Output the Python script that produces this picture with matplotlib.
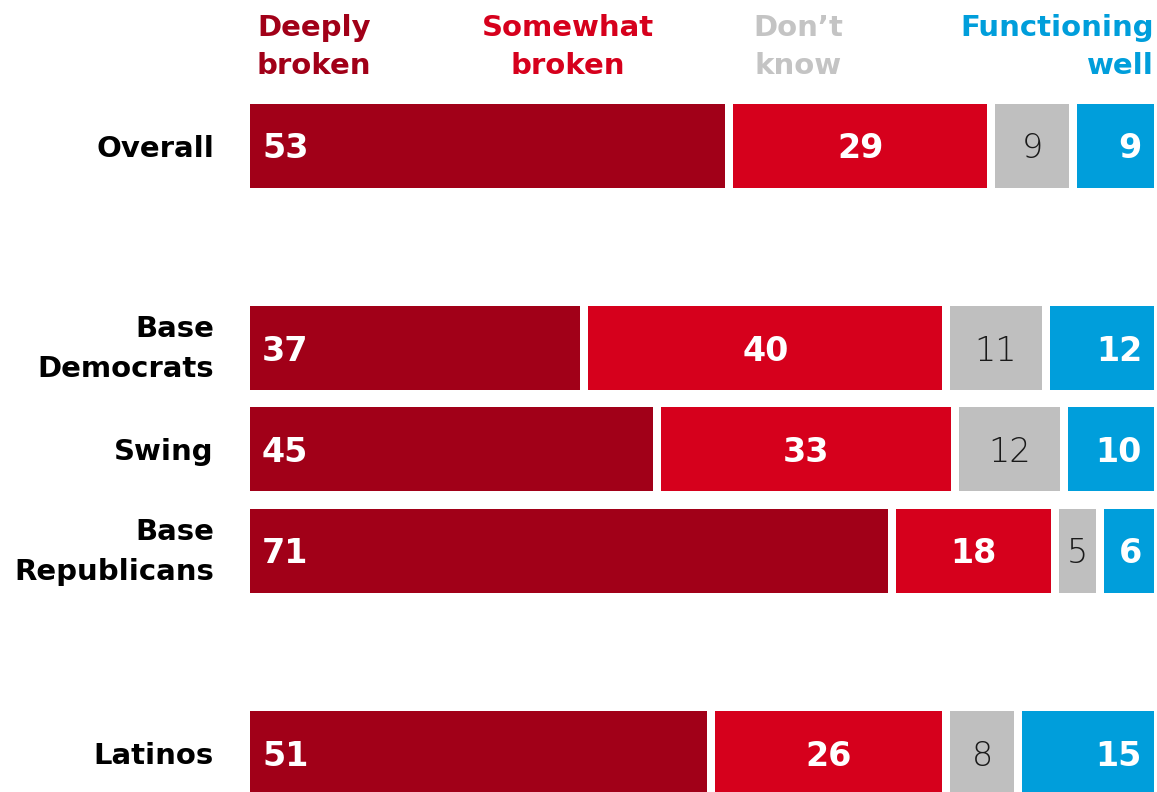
import numpy as np
import matplotlib.pyplot as plt

plt.rcParams['font.family'] = ['DejaVu Sans']

# data (percent)
groups = ['Overall', 'Base\nDemocrats', 'Swing', 'Base\nRepublicans', 'Latinos']
categories = ['Deeply\nbroken', 'Somewhat\nbroken', 'Don\u2019t\nknow', 'Functioning\nwell']
deeply = [53, 37, 45, 71, 51]
somewhat = [29, 40, 33, 18, 26]
dont_know = [9, 11, 12, 5, 8]
functioning = [9, 12, 10, 6, 15]

colors = ['#A10018', '#D6001C', '#BFBFBF', '#009EDB']
head_colors = ['#A10018', '#D6001C', '#C4C4C4', '#009EDB']

# layout: rows with empty slots between the sections
row_pos = [0, 2, 3, 4, 6]
px_per_row = 101.2
W, H = 1157, 792

fig = plt.figure(figsize=(W / 100, H / 100), dpi=100)
ax = fig.add_axes([250 / W, 0, 904 / W, 1])
ax.set_xlim(0, 100)
ax.set_ylim(6 + (H - 753) / px_per_row, -146 / px_per_row)
ax.axis('off')


def px(d):
    # vertical pixel offset -> data units (axis is inverted)
    return d / px_per_row


gap = 8 / 9.04  # white gap between segments, in data units
series = [deeply, somewhat, dont_know, functioning]
vals = np.array(series).T
pad = 12 / 9.04
num_kw = dict(va='baseline', fontsize=24)

for i, y in enumerate(row_pos):
    left = 0
    yb = y + px(12.5)
    for j, v in enumerate(vals[i]):
        l = left + (gap / 2 if j > 0 else 0)
        r = left + v - (gap / 2 if j < len(vals[i]) - 1 else 0)
        ax.barh(y, r - l, left=l, height=0.83, color=colors[j], linewidth=0)
        if j == 0:
            ax.text(l + pad, yb, str(v), ha='left', color='white', fontweight='bold', **num_kw)
        elif j == 1:
            ax.text((l + r) / 2, yb, str(v), ha='center', color='white', fontweight='bold', **num_kw)
        elif j == 2:
            ax.text((l + r) / 2, yb, str(v), ha='center', color='#1a1a1a', fontweight='light', **num_kw)
        else:
            ax.text(r - pad, yb, str(v), ha='right', color='white', fontweight='bold', **num_kw)
        left += v

    lines = groups[i].split('\n')
    offs = [11] if len(lines) == 1 else [-11, 29]
    for line, o in zip(lines, offs):
        ax.text(-36 / 9.04, y + px(o), line, ha='right', va='baseline', color='black',
                fontsize=21, fontweight='bold')

# column headers
head_x = [(314 - 250) / 9.04, (568 - 250) / 9.04, (798 - 250) / 9.04, 100]
head_ha = ['center', 'center', 'center', 'right']
for k, cat in enumerate(categories):
    for n, line in enumerate(cat.split('\n')):
        ax.text(head_x[k], px(36 + 38 * n - 146), line, ha=head_ha[k],
                va='baseline', color=head_colors[k], fontsize=21, fontweight='bold')

fig.savefig('out.png', dpi=100)
